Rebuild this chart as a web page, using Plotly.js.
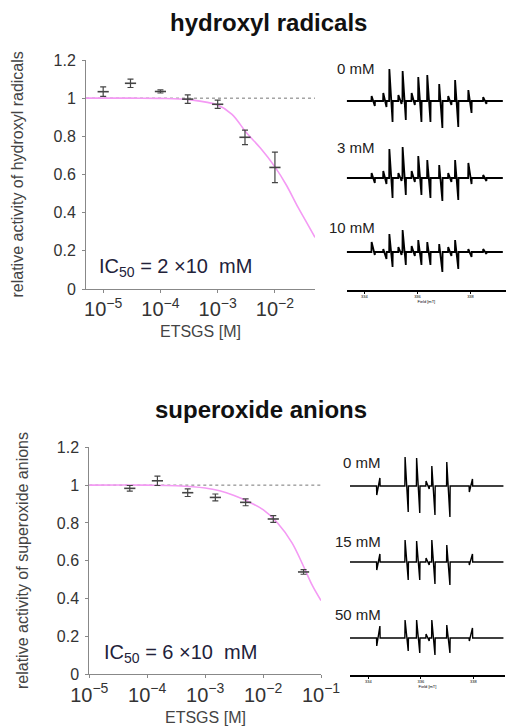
<!DOCTYPE html>
<html>
<head>
<meta charset="utf-8">
<script src="https://cdn.plot.ly/plotly-3.0.1.min.js"></script>
<style>html,body{margin:0;padding:0;background:#fff;}#chart{width:506px;height:728px;}</style>
</head>
<body>
<div id="chart"></div>
<script>
// ---------- dose-response data ----------
const hydroxylConc = [1e-5, 3e-5, 1e-4, 3e-4, 1e-3, 3e-3, 1e-2];
const hydroxylActivity = [1.034, 1.078, 1.035, 0.995, 0.968, 0.795, 0.637];
const hydroxylError = [0.025, 0.022, 0.008, 0.022, 0.022, 0.038, 0.08];
const hydroxylFitConc = [5.0e-6, 3.16e-5, 1e-4, 3.16e-4, 1e-3, 1.78e-3, 3.16e-3, 5.62e-3, 1e-2, 1.58e-2, 2.51e-2, 3.55e-2, 5.01e-2];
const hydroxylFitValue = [1.0, 1.0, 0.999, 0.992, 0.964, 0.915, 0.82, 0.737, 0.64, 0.545, 0.43, 0.35, 0.27];

const superoxideConc = [5e-5, 1.5e-4, 5e-4, 1.5e-3, 5e-3, 1.5e-2, 5e-2];
const superoxideActivity = [0.983, 1.023, 0.96, 0.935, 0.909, 0.821, 0.541];
const superoxideError = [0.015, 0.025, 0.02, 0.018, 0.018, 0.018, 0.012];
const superoxideFitConc = [1e-5, 1e-4, 3.16e-4, 1e-3, 1.78e-3, 3.16e-3, 5.62e-3, 1e-2, 1.78e-2, 3.16e-2, 5.01e-2, 7.08e-2, 1e-1];
const superoxideFitValue = [1.0, 1.0, 0.997, 0.985, 0.97, 0.945, 0.912, 0.87, 0.80, 0.695, 0.57, 0.47, 0.39];

// ---------- ESR spectra (line positions in mT, first / second lobe intensities, a.u.) ----------
const esrTicks = [334, 336, 338];
const esrTickLabels = ['334', '336', '338'];
const ohFieldRange = [333.33, 339.22];
const ohLines = [334.27, 334.71, 334.94, 335.28, 335.44, 335.78, 336.03, 336.37, 336.82, 337.16, 337.42, 337.92, 338.48];
const oh0First  = [5, 8, 32, 6, 30, 8, 24, 26, 17, 5, 21, 11, 4];
const oh0Second = [-5, -6, -21, -3, -19, -4, -21, -21, -27, -4, -26, -12, -3];
const oh3First  = [5, 7, 29, 5, 31, 7, 22, 18, 13, 5, 18, 15, 3];
const oh3Second = [-5, -6, -20, -3, -17, -4, -17, -20, -23, -4, -22, -6, -3];
const oh10First  = [10, 3, 18, 5, 22, 6, 12, 10, 8, 5, 12, 3, 3];
const oh10Second = [-3, -7, -15, -3, -13, -4, -13, -13, -20, -4, -17, -5, -2];
const ohLabels = ['0 mM', '3 mM', '10 mM'];

const ooFieldRange = [333.30, 339.15];
const ooLines = [334.32, 335.40, 335.84, 336.20, 336.42, 336.99, 337.85];
const oo0First  = [-9, 29, 28, 5, 20, 24, -6];
const oo0Second = [8, -26, -27, -3, -29, -31, 7];
const oo15First  = [-8, 22, 21, 4, 22, 17, -3];
const oo15Second = [8, -18, -18, -3, -22, -23, 8];
const oo50First  = [-8, 18, 18, 4, 18, 13, -3];
const oo50Second = [12, -13, -15, -3, -17, -15, 10];
const ooLabels = ['0 mM', '15 mM', '50 mM'];

// ---------- helpers ----------
const W = 506, H = 728;
const px = x => x / W;
const py = y => 1 - y / H;
const LOBE = 0.12, EDGE = 0.008;

function spectrum(range, lines, first, second) {
  const xs = [range[0]], ys = [0];
  lines.forEach((f, i) => {
    xs.push(f - EDGE, f, f + LOBE, f + LOBE + EDGE);
    ys.push(0, first[i], second[i], 0);
  });
  xs.push(range[1]); ys.push(0);
  return {x: xs, y: ys};
}

const pointStyle = {
  mode: 'markers', type: 'scatter', cliponaxis: false,
  marker: {symbol: 'line-ew', size: 8, color: '#444', line: {width: 1.6, color: '#444'}}
};
const fitStyle = {mode: 'lines', type: 'scatter', line: {color: '#f49af4', width: 1.6, shape: 'spline'}, cliponaxis: false};
const errStyle = (arr) => ({type: 'data', array: arr, visible: true, color: '#444', thickness: 1.2, width: 3});

const traces = [
  Object.assign({x: hydroxylFitConc, y: hydroxylFitValue, xaxis: 'x', yaxis: 'y'}, fitStyle),
  Object.assign({x: hydroxylConc, y: hydroxylActivity, xaxis: 'x', yaxis: 'y', error_y: errStyle(hydroxylError)}, pointStyle),
  Object.assign({x: superoxideFitConc, y: superoxideFitValue, xaxis: 'x2', yaxis: 'y2'}, fitStyle),
  Object.assign({x: superoxideConc, y: superoxideActivity, xaxis: 'x2', yaxis: 'y2', error_y: errStyle(superoxideError)}, pointStyle)
];

const ohLine = {color: '#000', width: 1.8};
const ooLine = {color: '#000', width: 1.4};
[[oh0First, oh0Second, 'y3'], [oh3First, oh3Second, 'y4'], [oh10First, oh10Second, 'y5']].forEach(([a, b, ya]) => {
  const s = spectrum(ohFieldRange, ohLines, a, b);
  traces.push({x: s.x, y: s.y, xaxis: 'x3', yaxis: ya, mode: 'lines', type: 'scatter', line: ohLine, cliponaxis: false});
});
[[oo0First, oo0Second, 'y6'], [oo15First, oo15Second, 'y7'], [oo50First, oo50Second, 'y8']].forEach(([a, b, ya]) => {
  const s = spectrum(ooFieldRange, ooLines, a, b);
  traces.push({x: s.x, y: s.y, xaxis: 'x4', yaxis: ya, mode: 'lines', type: 'scatter', line: ooLine, cliponaxis: false});
});

const baseFont = 'Liberation Sans, Arial, sans-serif';
const doseX = (d) => Object.assign({
  type: 'log', dtick: 1, exponentformat: 'power', showline: true, linecolor: '#888', linewidth: 1,
  ticks: 'outside', ticklen: 3, tickcolor: '#888', showgrid: false, zeroline: false,
  tickfont: {size: 16, color: '#333'}
}, d);
const doseY = (d) => Object.assign({
  range: [0, 1.2], dtick: 0.2, showline: true, linecolor: '#888', linewidth: 1,
  ticks: 'outside', ticklen: 3, tickcolor: '#888', showgrid: false, zeroline: false,
  tickfont: {size: 16, color: '#333'}, ticklabelstandoff: 3
}, d);
const specX = (d) => Object.assign({
  anchor: 'free', showline: true, linecolor: '#000', linewidth: 1.5, ticks: 'outside', ticklen: 2,
  tickcolor: '#000', tickvals: esrTicks, ticktext: esrTickLabels, tickfont: {size: 4, color: '#000'},
  showgrid: false, zeroline: false, title: {text: 'Field [mT]', font: {size: 4, color: '#000'}, standoff: 1}
}, d);
const specY = (base, anchor) => ({
  anchor: anchor, domain: [py(base + 35), py(base - 35)], range: [-35, 35], visible: false, fixedrange: true
});

const ann = [];
function label(text, x, y, opts) {
  ann.push(Object.assign({text: text, x: px(x), y: py(y), xref: 'paper', yref: 'paper', showarrow: false,
    xanchor: 'center', yanchor: 'middle',
    font: {size: 16, color: '#444', family: baseFont}}, opts || {}));
}
label('<b>hydroxyl radicals</b>', 168, 22, {xanchor: 'left', font: {size: 24, color: '#111', family: baseFont}});
label('<b>superoxide anions</b>', 153, 409, {xanchor: 'left', font: {size: 24, color: '#111', family: baseFont}});
label('relative activity of hydroxyl radicals', 17, 174.5, {textangle: -90});
label('relative activity of superoxide anions', 22, 561, {textangle: -90});
label('ETSGS [M]', 200.5, 332);
label('ETSGS [M]', 205, 717);
label('IC<sub>50</sub> = 2 \u00d710  mM', 97, 267, {xanchor: 'left', font: {size: 20, color: '#22223a', family: baseFont}});
label('IC<sub>50</sub> = 6 \u00d710  mM', 102, 653, {xanchor: 'left', font: {size: 20, color: '#22223a', family: baseFont}});
[[ohLabels[0], 377, 68], [ohLabels[1], 377, 148], [ohLabels[2], 377, 227],
 [ooLabels[0], 383, 462], [ooLabels[1], 383, 541], [ooLabels[2], 383, 614]].forEach(([t, x, y]) => {
  label(t, x, y, {xanchor: 'right', font: {size: 15, color: '#222', family: baseFont}});
});

const layout = {
  width: W, height: H, margin: {l: 0, r: 0, t: 0, b: 0}, showlegend: false,
  paper_bgcolor: '#fff', plot_bgcolor: 'rgba(0,0,0,0)', font: {family: baseFont},
  xaxis: doseX({range: [-5.3, -1.3], domain: [px(86), px(315)], anchor: 'y'}),
  yaxis: doseY({domain: [py(289), py(60)], anchor: 'x'}),
  xaxis2: doseX({range: [-5, -1], domain: [px(89.3), px(321)], anchor: 'y2'}),
  yaxis2: doseY({domain: [py(674.3), py(447.3)], anchor: 'x2'}),
  xaxis3: specX({range: [333.33, 339.34], domain: [px(346.7), px(506)], position: py(290)}),
  xaxis4: specX({range: [333.30, 339.21], domain: [px(350), px(505)], position: py(675)}),
  yaxis3: specY(101, 'x3'), yaxis4: specY(178, 'x3'), yaxis5: specY(252, 'x3'),
  yaxis6: specY(486, 'x4'), yaxis7: specY(562, 'x4'), yaxis8: specY(638, 'x4'),
  shapes: [
    {type: 'line', xref: 'x domain', yref: 'y', x0: 0, x1: 1, y0: 1, y1: 1, line: {color: '#777', width: 1, dash: 'dot'}, layer: 'below'},
    {type: 'line', xref: 'x2 domain', yref: 'y2', x0: 0, x1: 1, y0: 1, y1: 1, line: {color: '#777', width: 1, dash: 'dot'}, layer: 'below'}
  ],
  annotations: ann
};

Plotly.newPlot('chart', traces, layout, {staticPlot: true, displayModeBar: false});
</script>
</body>
</html>
